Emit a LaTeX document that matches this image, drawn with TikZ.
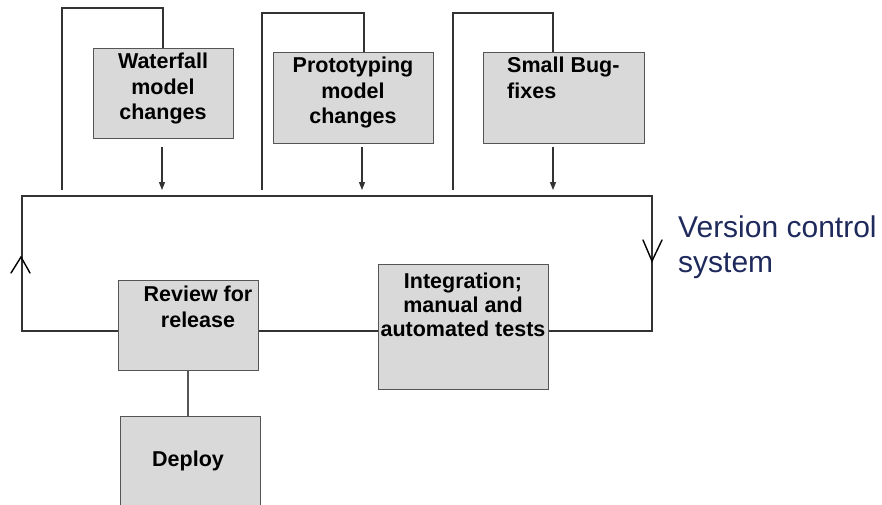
\documentclass[tikz,border=0pt]{standalone}
\usepackage{fontspec}
\setmainfont{Liberation Sans}
\usetikzlibrary{arrows.meta}
\definecolor{boxfill}{HTML}{D9D9D9}
\definecolor{boxline}{HTML}{555555}
\definecolor{wire}{HTML}{333333}
\definecolor{vcsblue}{HTML}{1F2A5C}
\tikzset{
  stagebox/.style={draw=boxline, line width=1.3pt, fill=boxfill, inner sep=0pt},
  stagetext/.style={font=\bfseries\fontsize{21.5}{25.5}\selectfont, align=center, inner sep=0pt, anchor=north},
  wireline/.style={draw=wire, line width=1.1pt},
  feed/.style={wireline, -{Triangle[length=8pt,width=6pt]}},
  openhead/.style={draw=black, line width=1.4pt, line cap=round, line join=miter},
}
\begin{document}
\begin{tikzpicture}[x=1pt, y=-1pt]
\useasboundingbox (0,0) rectangle (882,504);

% version-control loop
\coordinate (tl) at (22,196);
\coordinate (tr) at (652,196);
\coordinate (br) at (652,331);
\coordinate (bl) at (22,331);
\draw[wireline] (tl) -- (tr) -- (br) -- (bl) -- cycle;

% direction marks on the loop
\draw[openhead] (643,240) -- (652,261) -- (662,240);
\draw[openhead] (11,273) -- (21,257) -- (30,273);

% change sources
\node[stagebox, minimum width=140pt, minimum height=90pt, anchor=north west] (wf) at (93,48) {};
\node[stagebox, minimum width=160pt, minimum height=91pt, anchor=north west] (pt) at (273,52) {};
\node[stagebox, minimum width=161pt, minimum height=91pt, anchor=north west] (sb) at (483,52) {};

\node[stagetext] (wft) at (163,53) {Waterfall\\model\\changes};
\node[stagetext] (ptt) at (353,57) {Prototyping\\model\\changes};
\node[stagetext, align=left, anchor=north west] (sbt) at (507,57) {Small Bug-\\fixes};

% loops from the repository back to each source
\coordinate (wfl) at (62,190);
\coordinate (ptl) at (262,190);
\coordinate (sbl) at (453,190);
\draw[wireline] (wfl) |- (163,8) -- (wf.north -| 163,0);
\draw[wireline] (ptl) |- (364,13) -- (pt.north -| 364,0);
\draw[wireline] (sbl) |- (553,13) -- (sb.north -| 553,0);

% commits into the repository
\coordinate (wfa) at (162,190);
\coordinate (pta) at (362,190);
\coordinate (sba) at (553,190);
\draw[feed] (162,147) -- (wfa);
\draw[feed] (362,147) -- (pta);
\draw[feed] (553,147) -- (sba);

% review and deploy
\node[stagebox, minimum width=140pt, minimum height=90pt, anchor=north west] (rv) at (118,280) {};
\node[stagetext] (rvt) at (198,286) {Review for\\release};
\node[stagebox, minimum width=170pt, minimum height=125pt, anchor=north west] (it) at (378,264) {};
\node[stagetext, font=\bfseries\fontsize{21.5}{24}\selectfont] (itt) at (463,273) {Integration;\\manual and\\automated tests};

\node[stagebox, minimum width=140pt, minimum height=100pt, anchor=north west] (dp) at (120,416) {};
\node[stagetext, anchor=center] (dpt) at (188,461) {Deploy};
\draw[wireline, draw=boxline, line width=1.3pt] (rv.south -| 188,0) -- (dp.north -| 188,0);

% label of the loop
\node[font=\fontsize{30}{35}\selectfont, text=vcsblue, align=left, anchor=north west, inner sep=0pt] (vcs) at (678,216) {Version control\\system};
\end{tikzpicture}
\end{document}
